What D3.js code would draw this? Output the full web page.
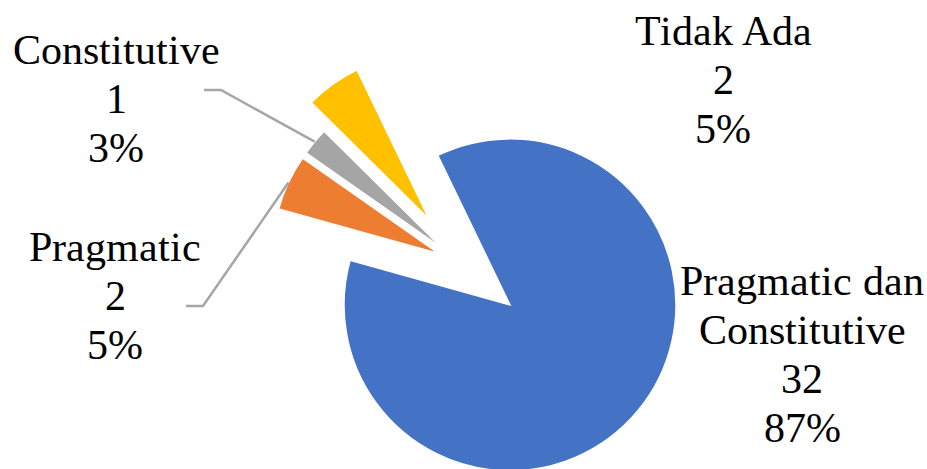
<!DOCTYPE html>
<html>
<head>
<meta charset="utf-8">
<script src="https://cdn.jsdelivr.net/npm/d3@7"></script>
<style>
  @font-face { font-family: "LabelSerif"; src: local("Liberation Serif"), local("LiberationSerif"), local("Tinos"), local("Times New Roman"); }
  html, body { margin: 0; padding: 0; background: #fff; }
  svg { display: block; }
</style>
</head>
<body>
<svg id="fig" width="927" height="469"></svg>
<script>
// ---- data ----
const categories = ["Pragmatic dan Constitutive", "Pragmatic", "Constitutive", "Tidak Ada"];
const values = [32, 2, 1, 2];
const percentLabels = ["87%", "5%", "3%", "5%"];
const labelLines = [["Pragmatic dan", "Constitutive"], ["Pragmatic"], ["Constitutive"], ["Tidak Ada"]];
const colors = ["#4472C4", "#ED7D31", "#A5A5A5", "#FFC000"];

// ---- layout / style ----
const center = [461.2, 264.1];
const radius = 166;
const startDeg = -25.8;
const explode = [63.6, 25, 25, 55];
const labelPos = [
  { x: 802, y: 295 },
  { x: 115, y: 261, leader: [[186, 306], [203, 306]] },
  { x: 116, y: 64,  leader: [[204, 90], [221, 90]] },
  { x: 723, y: 45 }
];
const lineH = 49;
const fontSize = 42;
const FONT = '"LabelSerif", "Liberation Serif", Tinos, "Times New Roman", serif';

const svg = d3.select("#fig");
const pie = d3.pie().sort(null).value(d => d)
  .startAngle(startDeg * Math.PI / 180)
  .endAngle(startDeg * Math.PI / 180 + 2 * Math.PI);
const arcs = pie(values);
const arc = d3.arc().innerRadius(0).outerRadius(radius);

const dir = a => [Math.sin(a), -Math.cos(a)];

const g = svg.append("g").attr("transform", `translate(${center[0]},${center[1]})`);

g.selectAll("path.slice")
  .data(arcs)
  .join("path")
  .attr("class", "slice")
  .attr("d", arc)
  .attr("fill", (d, i) => colors[i])
  .attr("stroke", "#fff")
  .attr("stroke-width", 1.5)
  .attr("transform", (d, i) => {
    const m = (d.startAngle + d.endAngle) / 2;
    const v = dir(m);
    return `translate(${v[0] * explode[i]},${v[1] * explode[i]})`;
  });

// leader lines
arcs.forEach((d, i) => {
  const lp = labelPos[i];
  if (!lp.leader) return;
  const m = (d.startAngle + d.endAngle) / 2;
  const v = dir(m);
  const end = [center[0] + v[0] * (explode[i] + radius), center[1] + v[1] * (explode[i] + radius)];
  const pts = lp.leader.concat([end]);
  svg.append("path")
    .attr("d", d3.line()(pts))
    .attr("fill", "none")
    .attr("stroke", "#A6A6A6")
    .attr("stroke-width", 2.5);
});

// labels: one text element per line
arcs.forEach((d, i) => {
  const lp = labelPos[i];
  const lines = labelLines[i].concat([String(values[i]), percentLabels[i]]);
  lines.forEach((s, k) => {
    svg.append("text")
      .attr("x", lp.x)
      .attr("y", lp.y + k * lineH)
      .attr("text-anchor", "middle")
      .style("font-family", FONT, "important")
      .style("font-size", fontSize + "px")
      .attr("fill", "#000")
      .text(s);
  });
});
</script>
</body>
</html>
